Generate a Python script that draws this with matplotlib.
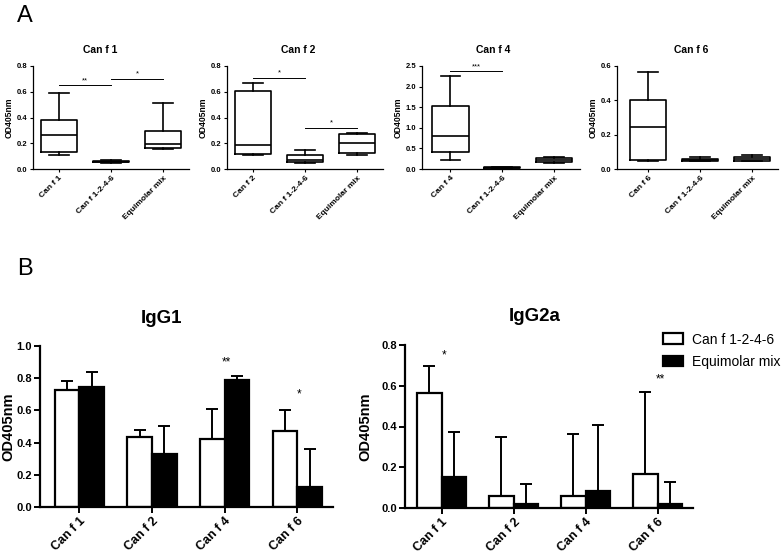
import matplotlib
matplotlib.use("Agg")
import matplotlib.pyplot as plt
from matplotlib.patches import Patch

plt.rcParams['font.family'] = ['Liberation Sans', 'DejaVu Sans']

# ---- Panel A: box plot stats (low whisker, Q1, median, Q3, high whisker)
box_titles = ['Can f 1', 'Can f 2', 'Can f 4', 'Can f 6']
box_groups = [['Can f 1', 'Can f 1-2-4-6', 'Equimolar mix'],
              ['Can f 2', 'Can f 1-2-4-6', 'Equimolar mix'],
              ['Can f 4', 'Can f 1-2-4-6', 'Equimolar mix'],
              ['Can f 6', 'Can f 1-2-4-6', 'Equimolar mix']]
canf1_stats = [[0.111, 0.129, 0.266, 0.379, 0.594],
               [0.048, 0.053, 0.058, 0.064, 0.068],
               [0.152, 0.165, 0.194, 0.296, 0.510]]
canf2_stats = [[0.105, 0.120, 0.190, 0.605, 0.668],
               [0.048, 0.055, 0.070, 0.110, 0.145],
               [0.110, 0.125, 0.200, 0.275, 0.280]]
canf4_stats = [[0.220, 0.410, 0.800, 1.540, 2.260],
               [0.005, 0.015, 0.030, 0.050, 0.060],
               [0.140, 0.160, 0.210, 0.260, 0.280]]
canf6_stats = [[0.046, 0.050, 0.242, 0.403, 0.565],
               [0.045, 0.048, 0.055, 0.060, 0.067],
               [0.045, 0.048, 0.058, 0.071, 0.079]]
box_ymax = [0.8, 0.8, 2.5, 0.6]
box_yticks = [[0, 0.2, 0.4, 0.6, 0.8], [0, 0.2, 0.4, 0.6, 0.8],
              [0, 0.5, 1.0, 1.5, 2.0, 2.5], [0, 0.2, 0.4, 0.6]]
# significance bars: (from group, to group, height, label)
box_sig = [[(0, 1, 0.65, '**'), (1, 2, 0.70, '*')],
           [(0, 1, 0.71, '*'), (1, 2, 0.32, '*')],
           [(0, 1, 2.37, '***')],
           []]

# ---- Panel B: bar means and upper error
bar_cats = ['Can f 1', 'Can f 2', 'Can f 4', 'Can f 6']
igg1_mix = [0.729, 0.435, 0.424, 0.472]
igg1_mix_err = [0.051, 0.041, 0.183, 0.128]
igg1_equi = [0.745, 0.331, 0.787, 0.124]
igg1_equi_err = [0.093, 0.172, 0.027, 0.238]
igg2a_mix = [0.566, 0.061, 0.059, 0.169]
igg2a_mix_err = [0.132, 0.287, 0.305, 0.398]
igg2a_equi = [0.152, 0.021, 0.084, 0.018]
igg2a_equi_err = [0.223, 0.099, 0.324, 0.108]
igg1_stars = [(2, 0.90, '**'), (3, 0.70, '*')]
igg2a_stars = [(0, 0.75, '*'), (3, 0.63, '**')]

W, H = 782, 555
fig = plt.figure(figsize=(W / 100, H / 100), dpi=100)


def px_axes(left, top, right, bottom):
    return fig.add_axes([left / W, 1 - bottom / H, (right - left) / W, (bottom - top) / H])


# panel A
box_rects = [(33, 66, 189, 169), (227, 66, 383, 169), (422, 66, 580, 169), (617, 66, 778, 169)]
box_xlims = [(-0.5, 2.5), (-0.5, 2.5), (-0.55, 2.5), (-0.6, 2.5)]
title_x = [0.43, 0.455, 0.45, 0.46]
all_stats = [canf1_stats, canf2_stats, canf4_stats, canf6_stats]
lw = 1.2
for i in range(4):
    ax = px_axes(*box_rects[i])
    stats = [dict(whislo=s[0], q1=s[1], med=s[2], q3=s[3], whishi=s[4], fliers=[])
             for s in all_stats[i]]
    ax.bxp(stats, positions=[0, 1, 2], widths=0.7, capwidths=0.38, showfliers=False,
           boxprops=dict(color='black', linewidth=lw),
           whiskerprops=dict(color='black', linewidth=lw),
           capprops=dict(color='black', linewidth=lw),
           medianprops=dict(color='black', linewidth=lw))
    ax.set_xlim(*box_xlims[i])
    ax.set_ylim(0, box_ymax[i])
    ax.set_yticks(box_yticks[i])
    ax.set_yticklabels(['%.1f' % v for v in box_yticks[i]], fontsize=5.5, fontweight='bold')
    ax.set_xticks([0, 1, 2])
    ax.set_xticklabels(box_groups[i], rotation=45, ha='right', rotation_mode='anchor',
                       fontsize=6, fontweight='bold')
    ax.tick_params(length=2.5, width=0.8, pad=1.5)
    for side in ['top', 'right']:
        ax.spines[side].set_visible(False)
    for side in ['left', 'bottom']:
        ax.spines[side].set_linewidth(0.9)
    ax.set_ylabel('OD405nm', fontsize=6.2, fontweight='bold', labelpad=2)
    ax.text(title_x[i], 1.11, box_titles[i], transform=ax.transAxes, ha='center',
            va='bottom', fontsize=7.5, fontweight='bold')
    for a, b, y, lab in box_sig[i]:
        ax.plot([a, b], [y, y], color='black', linewidth=0.7, clip_on=False)
        ax.text((a + b) / 2, y + box_ymax[i] * 0.012, lab, ha='center', va='bottom',
                fontsize=5.5, clip_on=False)

fig.text(17 / W, 1 - 22 / H, 'A', fontsize=17)
fig.text(17 / W, 1 - 275 / H, 'B', fontsize=17)

# panel B
bar_w = 0.34
bar_specs = [
    ((40, 346, 333, 507), (-0.54, 3.49), 1.0, 'IgG1', 0.416, -0.085,
     igg1_mix, igg1_mix_err, igg1_equi, igg1_equi_err, igg1_stars),
    ((405, 345, 693, 508), (-0.51, 3.49), 0.8, 'IgG2a', 0.45, -0.115,
     igg2a_mix, igg2a_mix_err, igg2a_equi, igg2a_equi_err, igg2a_stars),
]
x = list(range(len(bar_cats)))
for rect, xlim, ymax, title, tx, lx, mix, mix_err, equi, equi_err, stars in bar_specs:
    ax = px_axes(*rect)
    xm = [v - bar_w / 2 for v in x]
    xe = [v + bar_w / 2 for v in x]
    ax.bar(xm, mix, width=bar_w, color='white', edgecolor='black', linewidth=1.6, zorder=2)
    ax.bar(xe, equi, width=bar_w, color='black', edgecolor='black', linewidth=1.6, zorder=2)
    ax.errorbar(xm, mix, yerr=[[0] * len(mix), mix_err], fmt='none', ecolor='black',
                elinewidth=1.4, capsize=4.5, capthick=1.4, zorder=1)
    ax.errorbar(xe, equi, yerr=[[0] * len(equi), equi_err], fmt='none', ecolor='black',
                elinewidth=1.4, capsize=4.5, capthick=1.4, zorder=1)
    for ci, y, lab in stars:
        ax.text(ci + 0.03, y, lab, ha='center', va='center', fontsize=8.5)
    ax.set_xlim(*xlim)
    ax.set_ylim(0, ymax)
    yt = [round(v * 0.2, 1) for v in range(int(round(ymax / 0.2)) + 1)]
    ax.set_yticks(yt)
    ax.set_yticklabels(['%.1f' % v for v in yt], fontsize=8, fontweight='bold')
    ax.set_xticks(x)
    ax.set_xticklabels(bar_cats, rotation=45, ha='right', rotation_mode='anchor',
                       fontsize=9, fontweight='bold')
    ax.tick_params(length=4, width=1.4, pad=2)
    for side in ['top', 'right']:
        ax.spines[side].set_visible(False)
    for side in ['left', 'bottom']:
        ax.spines[side].set_linewidth(1.6)
    ax.set_ylabel('OD405nm', fontsize=10.5, fontweight='bold')
    ax.yaxis.set_label_coords(lx, 0.5)
    ax.text(tx, 1.12, title, transform=ax.transAxes, ha='center', va='bottom',
            fontsize=13.5, fontweight='bold')

handles = [Patch(facecolor='white', edgecolor='black', linewidth=1.6),
           Patch(facecolor='black', edgecolor='black', linewidth=1.6)]
fig.legend(handles, ['Can f 1-2-4-6', 'Equimolar mix'], loc='upper left',
           bbox_to_anchor=(650 / W, 1 - 320 / H), frameon=False, fontsize=10,
           handlelength=1.5, handleheight=0.8, handletextpad=0.6, labelspacing=0.6)

fig.savefig('out.png', dpi=100)
